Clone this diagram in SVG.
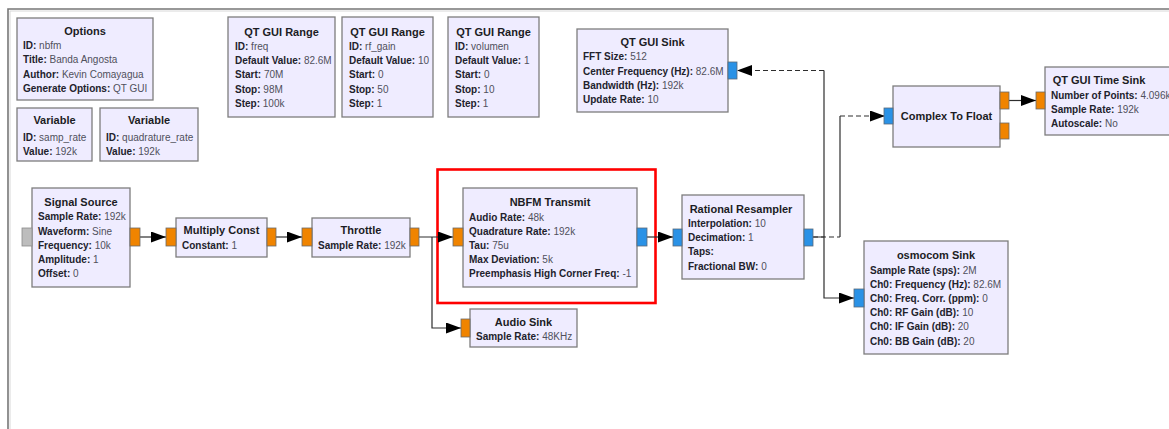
<svg xmlns="http://www.w3.org/2000/svg" width="1169" height="429" viewBox="0 0 1169 429">
  <style>
    .blk { fill: #efecff; stroke: #7d7d7d; stroke-width: 1.3; }
    .t { font-family: "Liberation Sans", Arial, sans-serif; font-size: 11px; font-weight: bold; fill: #1c1c24; text-anchor: middle; }
    .k { font-family: "Liberation Sans", Arial, sans-serif; font-size: 10px; font-weight: bold; fill: #22222c; }
    .v { font-weight: normal; fill: #50505c; }
    .pf { fill: #f08400; stroke: #6a6a6a; stroke-width: 0.8; }
    .pc { fill: #2a92e6; stroke: #5a6a7a; stroke-width: 0.8; }
    .pg { fill: #bdbdbd; stroke: #8a8a8a; stroke-width: 0.8; }
    .w { fill: none; stroke: #2e2e2e; stroke-width: 1.2; }
    .d { stroke-dasharray: 5 3; }
  </style>
  <defs>
    <marker id="arr" markerUnits="userSpaceOnUse" markerWidth="15" markerHeight="11" refX="15" refY="5.5" orient="auto">
      <path d="M0,0 L15,5.5 L0,11 z" fill="#000"/>
    </marker>
  </defs>

  <rect width="1169" height="429" fill="#ffffff"/>
  <!-- canvas frame -->
  <path d="M8,429 V9 H1169" fill="none" stroke="#777" stroke-width="1.6"/>
  <path d="M10,429 V11 H1169" fill="none" stroke="#d8d8d8" stroke-width="1"/>

  <!-- selection highlight -->
  <rect x="437.5" y="169.5" width="218" height="133.5" fill="none" stroke="#ff0000" stroke-width="2.6"/>

  <!-- connectors -->
  <g id="connectors">
    <line class="w" x1="140" y1="237" x2="166" y2="237" marker-end="url(#arr)"/>
    <line class="w" x1="276" y1="237" x2="302" y2="237" marker-end="url(#arr)"/>
    <line class="w" x1="419" y1="237" x2="453" y2="237" marker-end="url(#arr)"/>
    <path class="w" d="M432,237 V328 H461" marker-end="url(#arr)"/>
    <line class="w" x1="647" y1="237" x2="673" y2="237" marker-end="url(#arr)"/>
    <!-- resampler to GUI sink -->
    <line class="w" x1="824" y1="237" x2="824" y2="70.5"/>
    <line class="w d" x1="824" y1="70.5" x2="737" y2="70.5" marker-end="url(#arr)"/>
    <!-- resampler to complex-to-float -->
    <line class="w d" x1="813" y1="237" x2="840" y2="237"/>
    <line class="w" x1="840" y1="237" x2="840" y2="116"/>
    <line class="w d" x1="840" y1="116" x2="885" y2="116" marker-end="url(#arr)"/>
    <!-- resampler to osmocom -->
    <path class="w" d="M813,237 H824 V298 H854" marker-end="url(#arr)"/>
    <line class="w" x1="1009" y1="100.5" x2="1036" y2="100.5" marker-end="url(#arr)"/>
  </g>

  <g id="options">
    <rect class="blk" x="17" y="18" width="136" height="82"/>
    <text class="t" x="85" y="35">Options</text>
    <text class="k" x="23" y="48.5">ID: <tspan class="v">nbfm</tspan></text>
    <text class="k" x="23" y="63">Title: <tspan class="v">Banda Angosta</tspan></text>
    <text class="k" x="23" y="77.5">Author: <tspan class="v">Kevin Comayagua</tspan></text>
    <text class="k" x="23" y="91.5">Generate Options: <tspan class="v">QT GUI</tspan></text>
  </g>

  <g id="var_samp_rate">
    <rect class="blk" x="17" y="108" width="75" height="53"/>
    <text class="t" x="54.5" y="124">Variable</text>
    <text class="k" x="23" y="140.5">ID: <tspan class="v">samp_rate</tspan></text>
    <text class="k" x="23" y="154.5">Value: <tspan class="v">192k</tspan></text>
  </g>

  <g id="var_quadrature_rate">
    <rect class="blk" x="100" y="108" width="98" height="53"/>
    <text class="t" x="149" y="124">Variable</text>
    <text class="k" x="106" y="140.5">ID: <tspan class="v">quadrature_rate</tspan></text>
    <text class="k" x="106" y="154.5">Value: <tspan class="v">192k</tspan></text>
  </g>

  <g id="range_freq">
    <rect class="blk" x="228" y="17" width="107" height="100"/>
    <text class="t" x="281.5" y="36">QT GUI Range</text>
    <text class="k" x="235" y="49.5">ID: <tspan class="v">freq</tspan></text>
    <text class="k" x="235" y="64">Default Value: <tspan class="v">82.6M</tspan></text>
    <text class="k" x="235" y="78">Start: <tspan class="v">70M</tspan></text>
    <text class="k" x="235" y="92.5">Stop: <tspan class="v">98M</tspan></text>
    <text class="k" x="235" y="106.5">Step: <tspan class="v">100k</tspan></text>
  </g>

  <g id="range_rf_gain">
    <rect class="blk" x="342" y="17" width="91" height="100"/>
    <text class="t" x="387.5" y="36">QT GUI Range</text>
    <text class="k" x="349" y="49.5">ID: <tspan class="v">rf_gain</tspan></text>
    <text class="k" x="349" y="64">Default Value: <tspan class="v">10</tspan></text>
    <text class="k" x="349" y="78">Start: <tspan class="v">0</tspan></text>
    <text class="k" x="349" y="92.5">Stop: <tspan class="v">50</tspan></text>
    <text class="k" x="349" y="106.5">Step: <tspan class="v">1</tspan></text>
  </g>

  <g id="range_volumen">
    <rect class="blk" x="448" y="17" width="91" height="100"/>
    <text class="t" x="493.5" y="36">QT GUI Range</text>
    <text class="k" x="455" y="49.5">ID: <tspan class="v">volumen</tspan></text>
    <text class="k" x="455" y="64">Default Value: <tspan class="v">1</tspan></text>
    <text class="k" x="455" y="78">Start: <tspan class="v">0</tspan></text>
    <text class="k" x="455" y="92.5">Stop: <tspan class="v">10</tspan></text>
    <text class="k" x="455" y="106.5">Step: <tspan class="v">1</tspan></text>
  </g>

  <g id="qt_gui_sink">
    <rect class="blk" x="577" y="29" width="151" height="83"/>
    <rect class="pc" x="728" y="62" width="9" height="17"/>
    <text class="t" x="652.5" y="46">QT GUI Sink</text>
    <text class="k" x="583" y="60">FFT Size: <tspan class="v">512</tspan></text>
    <text class="k" x="583" y="74.5">Center Frequency (Hz): <tspan class="v">82.6M</tspan></text>
    <text class="k" x="583" y="88.5">Bandwidth (Hz): <tspan class="v">192k</tspan></text>
    <text class="k" x="583" y="103">Update Rate: <tspan class="v">10</tspan></text>
  </g>

  <g id="complex_to_float">
    <rect class="blk" x="893" y="86" width="107" height="61"/>
    <rect class="pc" x="884" y="108" width="9" height="16"/>
    <rect class="pf" x="1000" y="92" width="9" height="17"/>
    <rect class="pf" x="1000" y="123" width="9" height="16"/>
    <text class="t" x="946.5" y="120">Complex To Float</text>
  </g>

  <g id="qt_gui_time_sink">
    <rect class="blk" x="1045" y="67" width="130" height="68"/>
    <rect class="pf" x="1036" y="92" width="9" height="17"/>
    <text class="t" x="1099" y="84">QT GUI Time Sink</text>
    <text class="k" x="1051" y="98.5">Number of Points: <tspan class="v">4.096k</tspan></text>
    <text class="k" x="1051" y="112.5">Sample Rate: <tspan class="v">192k</tspan></text>
    <text class="k" x="1051" y="126.5">Autoscale: <tspan class="v">No</tspan></text>
  </g>

  <g id="signal_source">
    <rect class="blk" x="32" y="188" width="98" height="99"/>
    <rect class="pg" x="22" y="228" width="10" height="18"/>
    <rect class="pf" x="130" y="228" width="10" height="18"/>
    <text class="t" x="81" y="206">Signal Source</text>
    <text class="k" x="38" y="220">Sample Rate: <tspan class="v">192k</tspan></text>
    <text class="k" x="38" y="234.5">Waveform: <tspan class="v">Sine</tspan></text>
    <text class="k" x="38" y="248.5">Frequency: <tspan class="v">10k</tspan></text>
    <text class="k" x="38" y="263">Amplitude: <tspan class="v">1</tspan></text>
    <text class="k" x="38" y="277">Offset: <tspan class="v">0</tspan></text>
  </g>

  <g id="multiply_const">
    <rect class="blk" x="176" y="218" width="91" height="39"/>
    <rect class="pf" x="166" y="228" width="10" height="18"/>
    <rect class="pf" x="267" y="228" width="9" height="18"/>
    <text class="t" x="221.5" y="234">Multiply Const</text>
    <text class="k" x="182" y="248.5">Constant: <tspan class="v">1</tspan></text>
  </g>

  <g id="throttle">
    <rect class="blk" x="312" y="218" width="98" height="39"/>
    <rect class="pf" x="302" y="228" width="10" height="18"/>
    <rect class="pf" x="410" y="228" width="9" height="18"/>
    <text class="t" x="361" y="234">Throttle</text>
    <text class="k" x="318" y="248.5">Sample Rate: <tspan class="v">192k</tspan></text>
  </g>

  <g id="nbfm_tx">
    <rect class="blk" x="463" y="188" width="174" height="99"/>
    <rect class="pf" x="453" y="228" width="10" height="18"/>
    <rect class="pc" x="637" y="228" width="10" height="18"/>
    <text class="t" x="550" y="206">NBFM Transmit</text>
    <text class="k" x="469" y="220.5">Audio Rate: <tspan class="v">48k</tspan></text>
    <text class="k" x="469" y="234.5">Quadrature Rate: <tspan class="v">192k</tspan></text>
    <text class="k" x="469" y="248.5">Tau: <tspan class="v">75u</tspan></text>
    <text class="k" x="469" y="262.5">Max Deviation: <tspan class="v">5k</tspan></text>
    <text class="k" x="469" y="276.5">Preemphasis High Corner Freq: <tspan class="v">-1</tspan></text>
  </g>

  <g id="audio_sink">
    <rect class="blk" x="470" y="309" width="107" height="38"/>
    <rect class="pf" x="461" y="319" width="9" height="18"/>
    <text class="t" x="523.5" y="326">Audio Sink</text>
    <text class="k" x="476" y="339.5">Sample Rate: <tspan class="v">48KHz</tspan></text>
  </g>

  <g id="rational_resampler">
    <rect class="blk" x="682" y="195" width="122" height="84"/>
    <rect class="pc" x="673" y="229" width="9" height="17"/>
    <rect class="pc" x="804" y="229" width="9" height="17"/>
    <text class="t" x="741" y="213">Rational Resampler</text>
    <text class="k" x="688" y="226.5">Interpolation: <tspan class="v">10</tspan></text>
    <text class="k" x="688" y="241">Decimation: <tspan class="v">1</tspan></text>
    <text class="k" x="688" y="255">Taps: </text>
    <text class="k" x="688" y="269.5">Fractional BW: <tspan class="v">0</tspan></text>
  </g>

  <g id="osmocom_sink">
    <rect class="blk" x="864" y="241" width="144" height="113"/>
    <rect class="pc" x="854" y="289" width="10" height="18"/>
    <text class="t" x="936" y="259">osmocom Sink</text>
    <text class="k" x="870" y="273.5">Sample Rate (sps): <tspan class="v">2M</tspan></text>
    <text class="k" x="870" y="287.5">Ch0: Frequency (Hz): <tspan class="v">82.6M</tspan></text>
    <text class="k" x="870" y="301.5">Ch0: Freq. Corr. (ppm): <tspan class="v">0</tspan></text>
    <text class="k" x="870" y="316">Ch0: RF Gain (dB): <tspan class="v">10</tspan></text>
    <text class="k" x="870" y="330">Ch0: IF Gain (dB): <tspan class="v">20</tspan></text>
    <text class="k" x="870" y="344.5">Ch0: BB Gain (dB): <tspan class="v">20</tspan></text>
  </g>
</svg>
